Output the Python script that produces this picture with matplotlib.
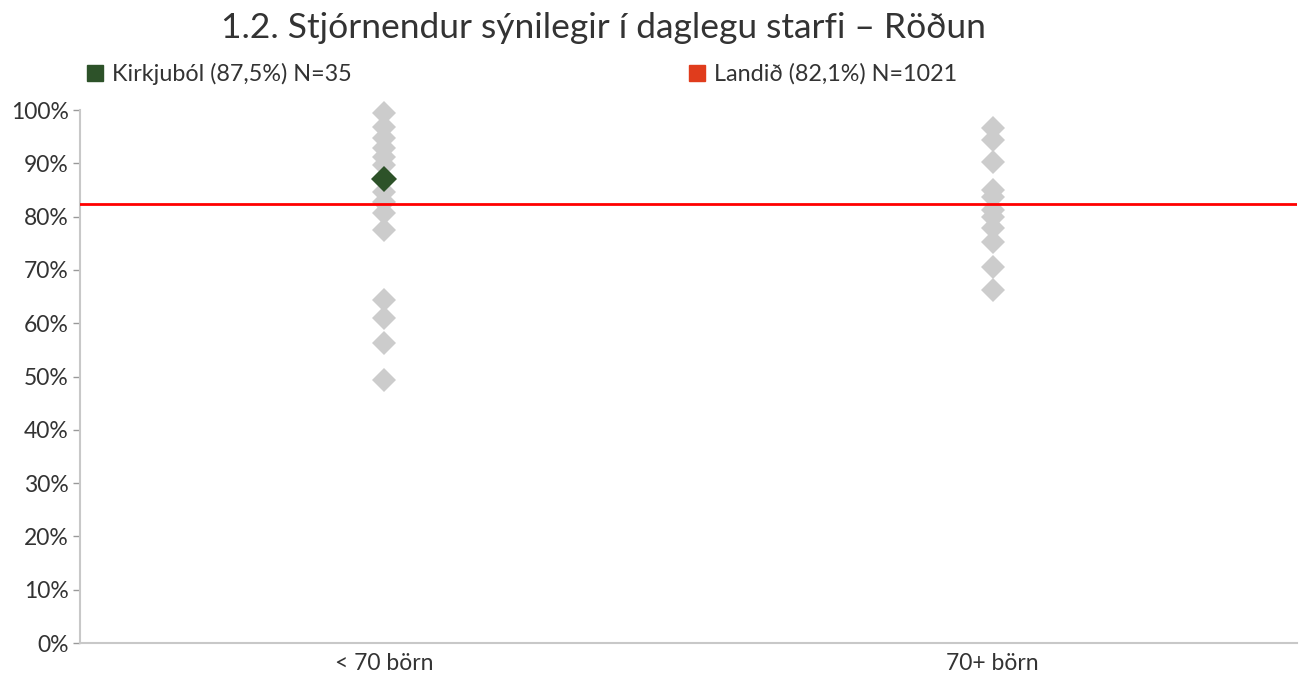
import matplotlib
matplotlib.use("Agg")
import matplotlib.pyplot as plt
from matplotlib.lines import Line2D
from matplotlib.ticker import FuncFormatter

plt.rcParams['font.family'] = ['Lato', 'DejaVu Sans']

categories = ["< 70 börn", "70+ börn"]
small_vals = [99.4, 96.9, 94.7, 92.8, 91.2, 89.7, 84.7, 82.8, 80.6, 77.5, 64.4, 60.9, 56.2, 49.3]
large_vals = [96.6, 94.4, 90.3, 85.0, 83.7, 81.2, 80.0, 77.8, 75.3, 70.6, 66.2]
school_cat = 0
school_val = 87.0
national_val = 82.4
school_label = "Kirkjuból (87,5%) N=35"
national_label = "Landið (82,1%) N=1021"
title = "1.2. Stjórnendur sýnilegir í daglegu starfi – Röðun"

txt = "#333333"
fig = plt.figure(figsize=(13.06, 6.73), dpi=100)
ax = fig.add_axes([80/1306, 30/673, 1217/1306, (643-110)/673])

gray = "#cccccc"
ax.plot([0]*len(small_vals), small_vals, linestyle='none', marker='D', markersize=12.5,
        color=gray, markeredgewidth=0, zorder=2, clip_on=False)
ax.plot([1]*len(large_vals), large_vals, linestyle='none', marker='D', markersize=12.5,
        color=gray, markeredgewidth=0, zorder=2, clip_on=False)
ax.axhline(national_val, color="#ff0000", linewidth=2, zorder=3)
ax.plot([school_cat], [school_val], linestyle='none', marker='D', markersize=13,
        color="#2d5229", markeredgewidth=0, zorder=4, clip_on=False)

ax.set_xlim(-0.5, 1.5)
ax.set_ylim(0, 100)
ax.set_xticks([0, 1])
ax.set_xticklabels(categories)
ax.set_yticks(range(0, 101, 10))
ax.yaxis.set_major_formatter(FuncFormatter(lambda v, p: f"{int(v)}%"))
ax.tick_params(axis='both', labelsize=16.5, colors=txt, length=5, width=1, color="#999999")
ax.tick_params(axis='y', pad=3)
ax.tick_params(axis='x', length=0, pad=7)
for s in ['top', 'right']:
    ax.spines[s].set_visible(False)
for s in ['left', 'bottom']:
    ax.spines[s].set_color("#c8c8c8")
    ax.spines[s].set_linewidth(1.5)
ax.patch.set_alpha(0)

fig.text(0.462, 1 - 28/673, title, ha='center', va='center', fontsize=25.5, color=txt)

h1 = Line2D([], [], linestyle='none', marker='s', markersize=12, color="#2d5229")
h2 = Line2D([], [], linestyle='none', marker='s', markersize=12, color="#e03c1c")
fig.legend([h1], [school_label], loc='center left', bbox_to_anchor=(84/1306, 1 - 74/673),
           frameon=False, fontsize=16.8, handletextpad=0.3, borderpad=0, borderaxespad=0,
           handlelength=0.9, labelcolor=txt)
fig.legend([h2], [national_label], loc='center left', bbox_to_anchor=(686/1306, 1 - 74/673),
           frameon=False, fontsize=16.8, handletextpad=0.3, borderpad=0, borderaxespad=0,
           handlelength=0.9, labelcolor=txt)

fig.savefig("out.png", dpi=100)
